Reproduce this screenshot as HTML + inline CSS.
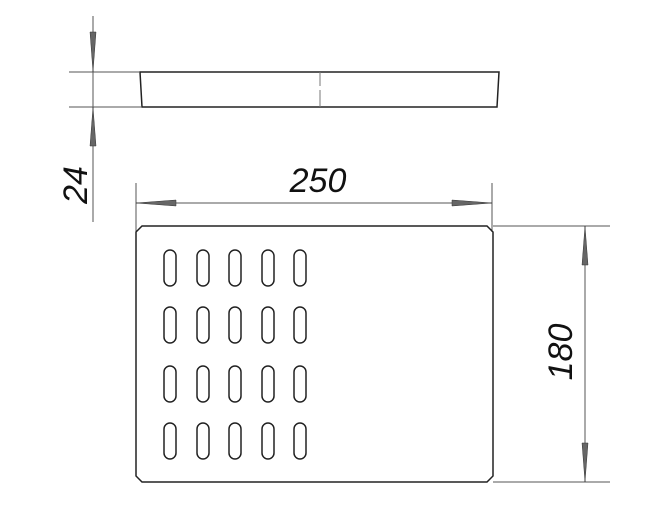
<!DOCTYPE html>
<html><head><meta charset="utf-8"><style>html,body{margin:0;padding:0;background:#fff}</style></head>
<body>
<svg width="670" height="500" viewBox="0 0 670 500" xmlns="http://www.w3.org/2000/svg">
<g fill="none" stroke="#222" stroke-width="1">
<!-- side view -->
<path d="M140 72 L499 72 L497 107 L142 107 Z" stroke-width="1.5"/>
<line x1="320" y1="72" x2="320" y2="86" stroke="#777"/>
<line x1="320" y1="90" x2="320" y2="107" stroke="#777"/>
<line x1="69" y1="72" x2="140" y2="72" stroke="#555"/>
<line x1="69" y1="107" x2="142" y2="107" stroke="#555"/>
<line x1="93" y1="16" x2="93" y2="222" stroke="#555"/>
<!-- horizontal dim -->
<line x1="136" y1="183" x2="136" y2="232" stroke="#555"/>
<line x1="492" y1="183" x2="492" y2="232" stroke="#555"/>
<line x1="136" y1="203" x2="492" y2="203" stroke="#555"/>
<!-- vertical dim -->
<line x1="493" y1="226" x2="610" y2="226" stroke="#555"/>
<line x1="493" y1="482" x2="610" y2="482" stroke="#555"/>
<line x1="585" y1="226" x2="585" y2="482" stroke="#555"/>
<!-- plate -->
<path d="M142 226 L487 226 L493 232 L493 476 L487 482 L142 482 L136 476 L136 232 Z" stroke-width="1.5"/>
</g>
<g fill="#666" stroke="#333" stroke-width="0.5">
<polygon points="93,72 90,32 96,32"/>
<polygon points="93,107 90,146 96,146"/>
<polygon points="136,203 176,200 176,206"/>
<polygon points="492,203 452,200 452,206"/>
<polygon points="585,226 582,265 588,265"/>
<polygon points="585,482 582,443 588,443"/>
</g>
<g fill="none" stroke="#222" stroke-width="1.5">
<rect x="164" y="250" width="12" height="36" rx="6"/><rect x="197" y="250" width="12" height="36" rx="6"/><rect x="229" y="250" width="12" height="36" rx="6"/><rect x="262" y="250" width="12" height="36" rx="6"/><rect x="294" y="250" width="12" height="36" rx="6"/>
<rect x="164" y="307" width="12" height="36" rx="6"/><rect x="197" y="307" width="12" height="36" rx="6"/><rect x="229" y="307" width="12" height="36" rx="6"/><rect x="262" y="307" width="12" height="36" rx="6"/><rect x="294" y="307" width="12" height="36" rx="6"/>
<rect x="164" y="366" width="12" height="36" rx="6"/><rect x="197" y="366" width="12" height="36" rx="6"/><rect x="229" y="366" width="12" height="36" rx="6"/><rect x="262" y="366" width="12" height="36" rx="6"/><rect x="294" y="366" width="12" height="36" rx="6"/>
<rect x="164" y="423" width="12" height="36" rx="6"/><rect x="197" y="423" width="12" height="36" rx="6"/><rect x="229" y="423" width="12" height="36" rx="6"/><rect x="262" y="423" width="12" height="36" rx="6"/><rect x="294" y="423" width="12" height="36" rx="6"/>
</g>
<g font-family="Liberation Sans, sans-serif" font-style="italic" font-size="34" fill="#111" text-anchor="middle">
<text x="318" y="192">250</text>
<text transform="translate(87,185) rotate(-90)">24</text>
<text transform="translate(572,352) rotate(-90)">180</text>
</g>
</svg>
</body></html>
